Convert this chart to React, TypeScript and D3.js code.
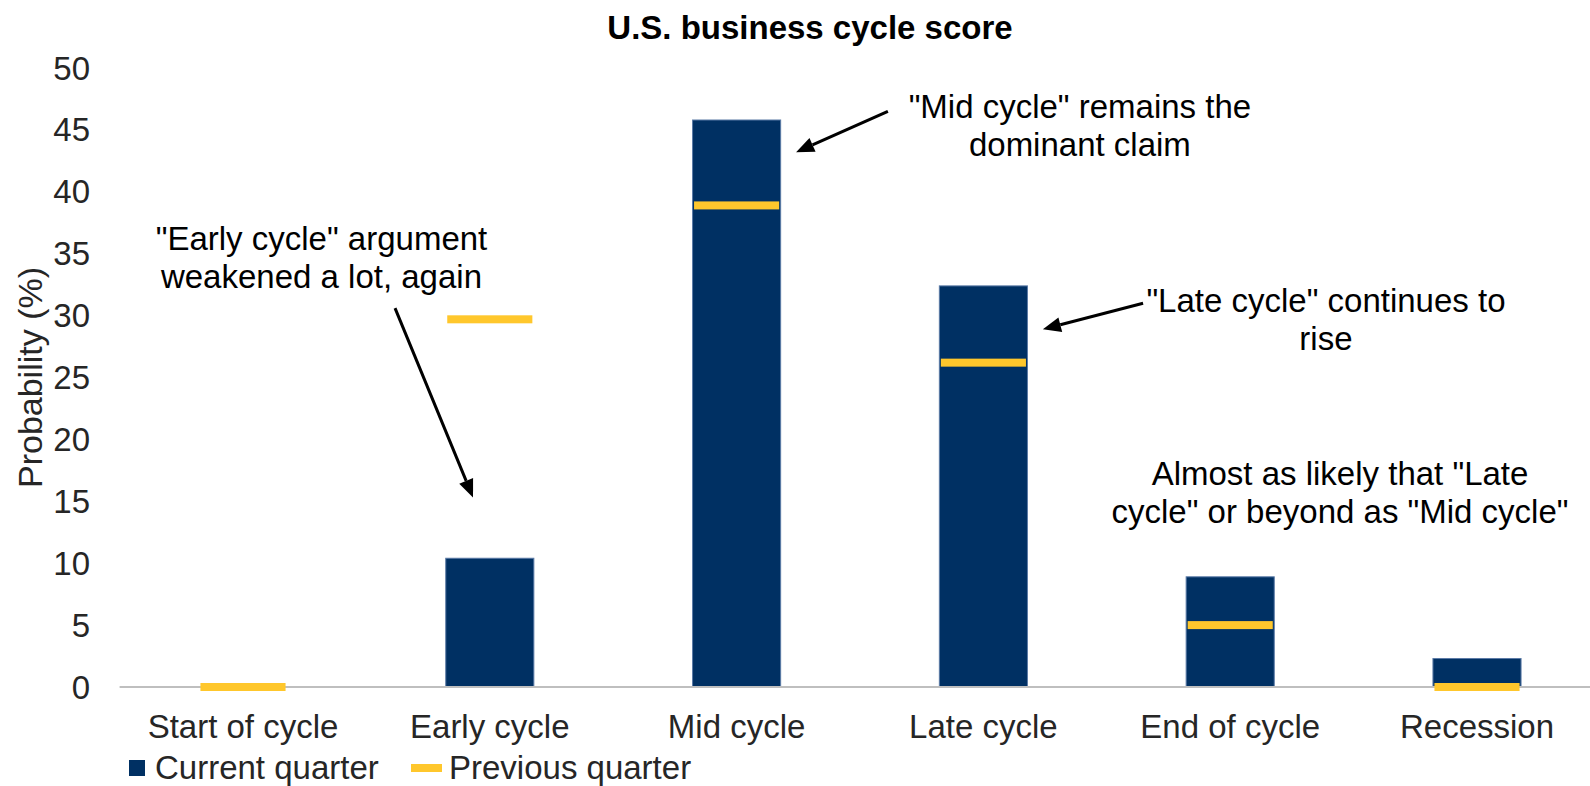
import * as d3 from 'd3';

const categories = ['Start of cycle', 'Early cycle', 'Mid cycle', 'Late cycle', 'End of cycle', 'Recession'];
const currentQuarter = [0, 10.4, 45.8, 32.4, 8.9, 2.3];
const previousQuarter = [0, 29.7, 38.9, 26.2, 5.0, 0];
const yTicks = [0, 5, 10, 15, 20, 25, 30, 35, 40, 45, 50];

// annotation anchors in (category index, value) units
const notes = [
  { lines: ['"Early cycle" argument', 'weakened a lot, again'], at: [0.318, 35.3] },
  { lines: ['"Mid cycle" remains the', 'dominant claim'], at: [3.391, 46.0] },
  { lines: ['"Late cycle" continues to', 'rise'], at: [4.388, 30.3] },
  { lines: ['Almost as likely that "Late', 'cycle" or beyond as "Mid cycle"'], at: [4.445, 16.3] },
];
const arrows = [
  { from: [0.616, 30.6], to: [0.932, 15.3] },
  { from: [2.613, 46.5], to: [2.241, 43.2] },
  { from: [3.647, 31.0], to: [3.241, 28.9] },
];

const W = 1590;
const H = 786;
const NAVY = '#003063';
const GOLD = '#FFC72C';
const FONT = 'Arial, "Liberation Sans", sans-serif';

export default function App() {
  const x = d3.scaleBand<string>()
    .domain(categories)
    .range([119.6, 1600.4])
    .paddingInner(0.643)
    .paddingOuter(0.3215);
  const y = d3.scaleLinear().domain([0, 50]).range([687, 68]);
  const cx = (c: string) => (x(c) as number) + x.bandwidth() / 2;
  const xi = d3.scaleLinear().domain([0, 5]).range([cx(categories[0]), cx(categories[5])]);

  const arrowPath = (a: { from: number[]; to: number[] }) => {
    const x1 = xi(a.from[0]), y1 = y(a.from[1]);
    const x2 = xi(a.to[0]), y2 = y(a.to[1]);
    const ang = Math.atan2(y2 - y1, x2 - x1);
    const len = 18, half = 7.5;
    const bx = x2 - len * Math.cos(ang), by = y2 - len * Math.sin(ang);
    const px = -Math.sin(ang) * half, py = Math.cos(ang) * half;
    return {
      line: [x1, y1, bx, by],
      head: `M${x2},${y2}L${bx + px},${by + py}L${bx - px},${by - py}Z`,
    };
  };

  return (
    <svg width={W} height={H} style={{ position: 'absolute', left: 0, top: 0, background: '#fff' }} fontFamily={FONT}>
      <text x={810} y={39} textAnchor="middle" fontSize={33} fontWeight="bold" fill="#000">
        U.S. business cycle score
      </text>

      {/* y axis labels */}
      {yTicks.map(t => (
        <text key={t} x={90} y={y(t)} dy="0.35em" textAnchor="end" fontSize={33} fill="#262626">{t}</text>
      ))}
      <text transform={`translate(42, ${y(25)}) rotate(-90)`} textAnchor="middle" fontSize={34} fill="#262626">
        Probability (%)
      </text>

      {/* bars */}
      {categories.map((c, i) => currentQuarter[i] > 0 && (
        <rect key={c} x={x(c)} y={y(currentQuarter[i])} width={x.bandwidth()}
          height={y(0) - y(currentQuarter[i])} fill={NAVY} stroke="#5a7aa6" strokeWidth={1} />
      ))}

      {/* baseline */}
      <line x1={x.range()[0]} x2={W} y1={y(0)} y2={y(0)} stroke="#bfbfbf" strokeWidth={2} />

      {/* previous quarter markers */}
      {categories.map((c, i) => (
        <rect key={c} x={(x(c) as number) + 1.5} y={y(previousQuarter[i]) - 4} width={x.bandwidth() - 3}
          height={8} fill={GOLD} />
      ))}

      {/* category labels */}
      {categories.map(c => (
        <text key={c} x={cx(c)} y={738} textAnchor="middle" fontSize={33} fill="#262626">{c}</text>
      ))}

      {/* annotations */}
      {notes.map((n, k) => (
        <text key={k} x={xi(n.at[0])} y={y(n.at[1])} textAnchor="middle" fontSize={33} fill="#000">
          {n.lines.map((l, j) => (
            <tspan key={j} x={xi(n.at[0])} dy={j === 0 ? 0 : 38}>{l}</tspan>
          ))}
        </text>
      ))}
      {arrows.map((a, k) => {
        const p = arrowPath(a);
        return (
          <g key={k}>
            <line x1={p.line[0]} y1={p.line[1]} x2={p.line[2]} y2={p.line[3]} stroke="#000" strokeWidth={3} />
            <path d={p.head} fill="#000" />
          </g>
        );
      })}

      {/* legend */}
      <rect x={129} y={760} width={16} height={16} fill={NAVY} />
      <text x={155} y={779} fontSize={33} fill="#262626">Current quarter</text>
      <rect x={411} y={764} width={31} height={8} fill={GOLD} />
      <text x={449} y={779} fontSize={33} fill="#262626">Previous quarter</text>
    </svg>
  );
}
